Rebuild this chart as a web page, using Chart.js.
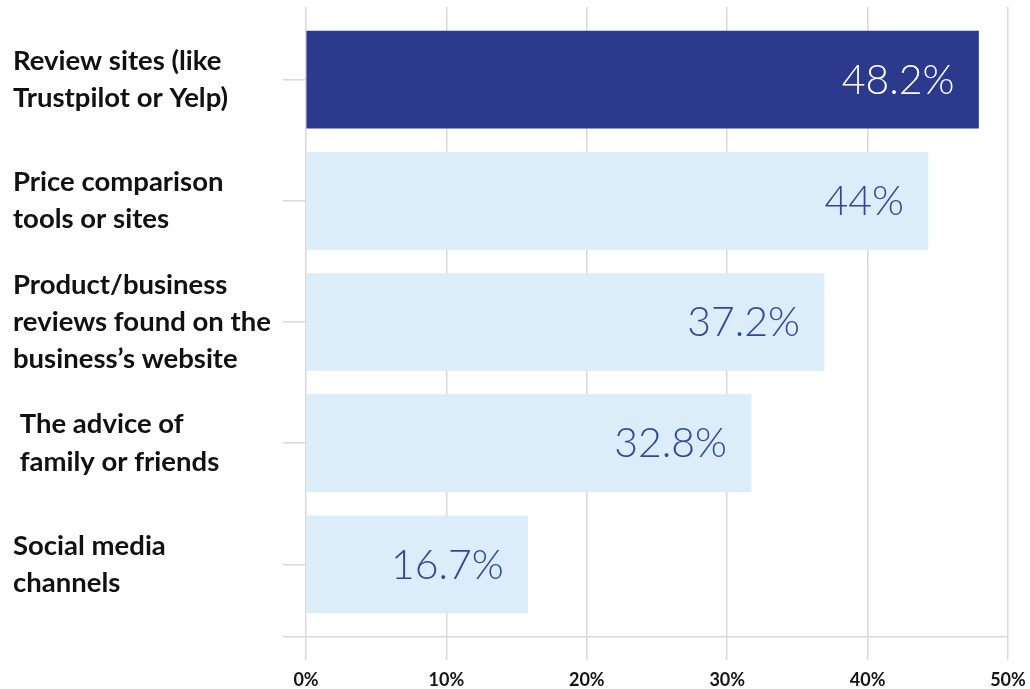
<!DOCTYPE html>
<html>
<head>
<meta charset="utf-8">
<script src="https://cdn.jsdelivr.net/npm/chart.js@4/dist/chart.umd.min.js"></script>
<style>
  html, body { margin: 0; padding: 0; background: #fff; }
  #wrap { width: 1030px; height: 689px; }
</style>
</head>
<body>
<div id="wrap"><canvas id="SourcesBarGraph"></canvas></div>
<script>
// categories (one array of lines per bar)
const categories = [
    ['Review sites (like', 'Trustpilot or Yelp)'],
    ['Price comparison', 'tools or sites'],
    ['Product/business', 'reviews found on the', 'business\u2019s website'],
    [' The advice of', ' family or friends'],
    ['Social media', 'channels']
];
// bar lengths as drawn in the picture
const barValues = [47.9, 44.3, 36.9, 31.7, 15.8];
// printed value labels
const valueLabels = ['48.2%', '44%', '37.2%', '32.8%', '16.7%'];
const xTicks = [0, 10, 20, 30, 40, 50];

const barColors = barValues.map((v, i) => i === 0 ? '#2b3a8c' : '#daedf9');
const labelColors = barValues.map((v, i) => i === 0 ? '#ffffff' : '#34449a');

// value text inside the end of each bar
const valueLabelPlugin = {
    id: 'valueLabels',
    afterDatasetsDraw(chart) {
        const ctx = chart.ctx;
        const meta = chart.getDatasetMeta(0);
        ctx.save();
        ctx.font = '300 41px Lato';
        ctx.textAlign = 'right';
        ctx.textBaseline = 'middle';
        meta.data.forEach((bar, i) => {
            ctx.fillStyle = labelColors[i];
            ctx.fillText(valueLabels[i], bar.x - 24, bar.y + 1);
        });
        ctx.restore();
    }
};

const ctx = document.getElementById('SourcesBarGraph').getContext('2d');
new Chart(ctx, {
    type: 'bar',
    data: {
        datasets: [{
            data: barValues.map((v, i) => ({ x: v, y: i })),
            backgroundColor: barColors,
            barThickness: 97
        }]
    },
    options: {
        indexAxis: 'y',
        responsive: true,
        maintainAspectRatio: false,
        animation: false,
        layout: { padding: { left: 13, right: 22, top: 7, bottom: 0 } },
        plugins: {
            legend: { display: false },
            tooltip: { enabled: false }
        },
        scales: {
            x: {
                type: 'linear',
                min: 0,
                max: 50,
                afterBuildTicks: scale => { scale.ticks = xTicks.map(v => ({ value: v })); },
                afterFit: scale => {
                    scale.height = 52;
                    scale.paddingLeft = 0;
                    scale.paddingRight = 0;
                },
                grid: { color: '#d9d9d9', lineWidth: 1.5, tickLength: 23 },
                border: { display: true, color: '#d9d9d9', width: 1.5 },
                ticks: {
                    callback: v => v + '%',
                    color: '#151515',
                    padding: 9,
                    maxRotation: 0,
                    font: { family: 'Lato', weight: 'bold', size: 18 }
                }
            },
            y: {
                type: 'linear',
                reverse: true,
                offset: false,
                min: -0.6,
                max: 4.6,
                afterBuildTicks: scale => {
                    scale.ticks = [0, 1, 2, 3, 4, 4.6].map(v => ({ value: v }));
                },
                afterFit: scale => {
                    scale.width = 293;
                    scale.paddingTop = 0;
                    scale.paddingBottom = 0;
                },
                grid: { offset: false, drawOnChartArea: false, color: '#d9d9d9', lineWidth: 1.5, tickLength: 23 },
                border: { display: false },
                ticks: {
                    callback: v => Number.isInteger(v) ? categories[v] : '',
                    crossAlign: 'far',
                    color: '#111111',
                    font: { family: 'Lato', weight: 'bold', size: 27.5, lineHeight: 1.35 }
                }
            }
        }
    },
    plugins: [valueLabelPlugin]
});
</script>
</body>
</html>
